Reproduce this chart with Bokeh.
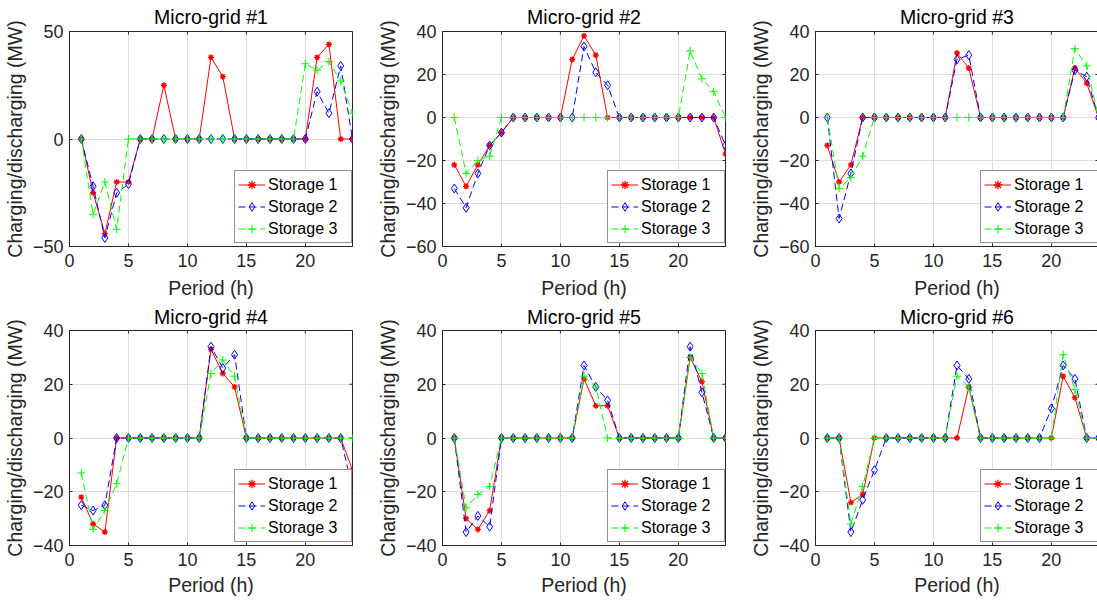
import math
from bokeh.plotting import figure
from bokeh.models import Range1d, FixedTicker
from bokeh.layouts import column, row
from bokeh.embed import file_html
from bokeh.resources import INLINE

periods = list(range(1, 25))
titles = ["Micro-grid #1", "Micro-grid #2", "Micro-grid #3",
          "Micro-grid #4", "Micro-grid #5", "Micro-grid #6"]
series_names = ["Storage 1", "Storage 2", "Storage 3"]
x_ticks = [0, 5, 10, 15, 20]

mg1_s1 = [0, -25, -44, -20, -20, 0, 0, 25, 0, 0, 0, 38, 29, 0, 0, 0, 0, 0, 0, 0, 38, 44, 0, 0]
mg1_s2 = [0, -22, -46, -25, -21, 0, 0, 0, 0, 0, 0, 0, 0, 0, 0, 0, 0, 0, 0, 0, 22, 12, 34, 0]
mg1_s3 = [0, -35, -20, -42, 0, 0, 0, 0, 0, 0, 0, 0, 0, 0, 0, 0, 0, 0, 0, 35, 32, 36, 27, 12]

mg2_s1 = [-22, -32, -22, -13, -7, 0, 0, 0, 0, 0, 27, 38, 29, 0, 0, 0, 0, 0, 0, 0, 0, 0, 0, -17]
mg2_s2 = [-33, -42, -26, -13, -7, 0, 0, 0, 0, 0, 0, 33, 21, 15, 0, 0, 0, 0, 0, 0, 0, 0, 0, -13]
mg2_s3 = [0, -26, -20, -18, 0, 0, 0, 0, 0, 0, 0, 0, 0, 0, 0, 0, 0, 0, 0, 0, 31, 18, 12, 0]

mg3_s1 = [-13, -30, -22, 0, 0, 0, 0, 0, 0, 0, 0, 30, 23, 0, 0, 0, 0, 0, 0, 0, 0, 23, 16, 0]
mg3_s2 = [0, -47, -26, 0, 0, 0, 0, 0, 0, 0, 0, 27, 29, 0, 0, 0, 0, 0, 0, 0, 0, 22, 19, 0]
mg3_s3 = [0, -33, -28, -18, 0, 0, 0, 0, 0, 0, 0, 0, 0, 0, 0, 0, 0, 0, 0, 0, 0, 32, 24, 0]

mg4_s1 = [-22, -32, -35, 0, 0, 0, 0, 0, 0, 0, 0, 33, 24, 19, 0, 0, 0, 0, 0, 0, 0, 0, 0, -12]
mg4_s2 = [-25, -27, -25, 0, 0, 0, 0, 0, 0, 0, 0, 34, 26, 31, 0, 0, 0, 0, 0, 0, 0, 0, 0, -19]
mg4_s3 = [-13, -34, -27, -17, 0, 0, 0, 0, 0, 0, 0, 24, 29, 23, 0, 0, 0, 0, 0, 0, 0, 0, 0, 0]

mg5_s1 = [0, -30, -34, -27, 0, 0, 0, 0, 0, 0, 0, 22, 12, 12, 0, 0, 0, 0, 0, 0, 30, 21, 0, 0]
mg5_s2 = [0, -35, -29, -33, 0, 0, 0, 0, 0, 0, 0, 27, 19, 14, 0, 0, 0, 0, 0, 0, 34, 17, 0, 0]
mg5_s3 = [0, -26, -21, -18, 0, 0, 0, 0, 0, 0, 0, 23, 19, 0, 0, 0, 0, 0, 0, 0, 30, 24, 0, 0]

mg6_s1 = [0, 0, -24, -21, 0, 0, 0, 0, 0, 0, 0, 0, 19, 0, 0, 0, 0, 0, 0, 0, 23, 15, 0, 0]
mg6_s2 = [0, 0, -35, -23, -12, 0, 0, 0, 0, 0, 0, 27, 22, 0, 0, 0, 0, 0, 0, 11, 27, 22, 0, 0]
mg6_s3 = [0, 0, -32, -18, 0, 0, 0, 0, 0, 0, 0, 23, 19, 0, 0, 0, 0, 0, 0, 0, 31, 18, 0, 0]

y_limits = [(-50, 50), (-60, 40), (-60, 40), (-40, 40), (-40, 40), (-40, 40)]
y_ticks = [[-50, 0, 50], [-60, -40, -20, 0, 20, 40], [-60, -40, -20, 0, 20, 40],
           [-40, -20, 0, 20, 40], [-40, -20, 0, 20, 40], [-40, -20, 0, 20, 40]]
all_data = [(mg1_s1, mg1_s2, mg1_s3), (mg2_s1, mg2_s2, mg2_s3), (mg3_s1, mg3_s2, mg3_s3),
            (mg4_s1, mg4_s2, mg4_s3), (mg5_s1, mg5_s2, mg5_s3), (mg6_s1, mg6_s2, mg6_s3)]

FONT = "Liberation Sans"
AX = "#262626"
GRID = "#dedede"


def style_axis(ax, label_standoff, tick_standoff):
    ax.axis_line_color = AX
    ax.axis_line_width = 1
    ax.major_tick_line_color = AX
    ax.major_tick_in = 3
    ax.major_tick_out = 0
    ax.minor_tick_line_color = None
    ax.major_label_text_font = FONT
    ax.major_label_text_color = AX
    ax.major_label_text_font_size = "18px"
    ax.major_label_standoff = tick_standoff
    ax.axis_label_text_font = FONT
    ax.axis_label_text_font_size = "19.5px"
    ax.axis_label_text_font_style = "normal"
    ax.axis_label_text_color = AX
    ax.axis_label_standoff = label_standoff


def make(i):
    col = i % 3
    rw = i // 3
    lo, hi = y_limits[i]
    p = figure(frame_width=283, frame_height=215,
               x_range=Range1d(0, 24), y_range=Range1d(lo, hi),
               output_backend="svg", toolbar_location=None,
               min_border_left=0, min_border_right=(0 if col == 2 else 21),
               min_border_top=0, min_border_bottom=0,
               title=titles[i])
    p.title.text_font = FONT
    p.title.text_font_size = "19.5px"
    p.title.text_font_style = "normal"
    p.title.text_color = "#000000"
    p.title.align = "center"
    p.title.standoff = (7 if rw == 0 else 5)
    p.outline_line_color = AX
    p.outline_line_width = 1
    p.background_fill_color = "white"

    xt = FixedTicker(ticks=x_ticks)
    yt = FixedTicker(ticks=y_ticks[i])
    p.xaxis.ticker = xt
    p.yaxis.ticker = yt
    p.xaxis.axis_label = "Period (h)"
    p.yaxis.axis_label = "Charging/discharging (MW)"
    style_axis(p.xaxis[0], (7 if rw == 0 else 5), 7)
    style_axis(p.yaxis[0], 4, 6)

    p.xgrid.ticker = xt
    p.ygrid.ticker = yt
    p.xgrid.grid_line_color = GRID
    p.ygrid.grid_line_color = GRID

    # inward tick marks on the top and right edges of the box
    p.scatter(x_ticks, [hi] * len(x_ticks), marker="dash", angle=math.pi / 2, size=6,
              line_color=AX, line_width=1)
    p.scatter([24] * len(y_ticks[i]), y_ticks[i], marker="dash", size=6,
              line_color=AX, line_width=1)

    s1, s2, s3 = all_data[i]
    p.line(periods, s1, line_color="#ff0000", line_width=1, legend_label=series_names[0])
    p.scatter(periods, s1, marker="asterisk", size=6, line_color="#ff0000", line_width=1.3,
              legend_label=series_names[0])
    p.line(periods, s2, line_color="#0000ff", line_width=1, line_dash="7 4",
           legend_label=series_names[1])
    p.scatter(periods, s2, marker="diamond", size=9, line_color="#0000ff", fill_color=None,
              line_width=1, legend_label=series_names[1])
    p.line(periods, s3, line_color="#00ff00", line_width=1, line_dash="7 4",
           legend_label=series_names[2])
    p.scatter(periods, s3, marker="cross", size=8, line_color="#00ff00", line_width=1,
              legend_label=series_names[2])

    lg = p.legend[0]
    lg.location = (165, 3)
    lg.label_text_font = FONT
    lg.label_text_font_size = "16px"
    lg.label_text_color = "#000000"
    lg.glyph_width = 27
    lg.glyph_height = 21
    lg.label_height = 21
    lg.label_width = 80
    lg.label_standoff = 3
    lg.spacing = 1
    lg.padding = 3
    lg.margin = 0
    lg.border_line_color = AX
    lg.border_line_width = 1
    lg.background_fill_alpha = 1.0
    return p


figs = [make(i) for i in range(6)]
layout = column(row(*figs[:3]), row(*figs[3:]))
open("out.html", "w").write(file_html(layout, INLINE))
